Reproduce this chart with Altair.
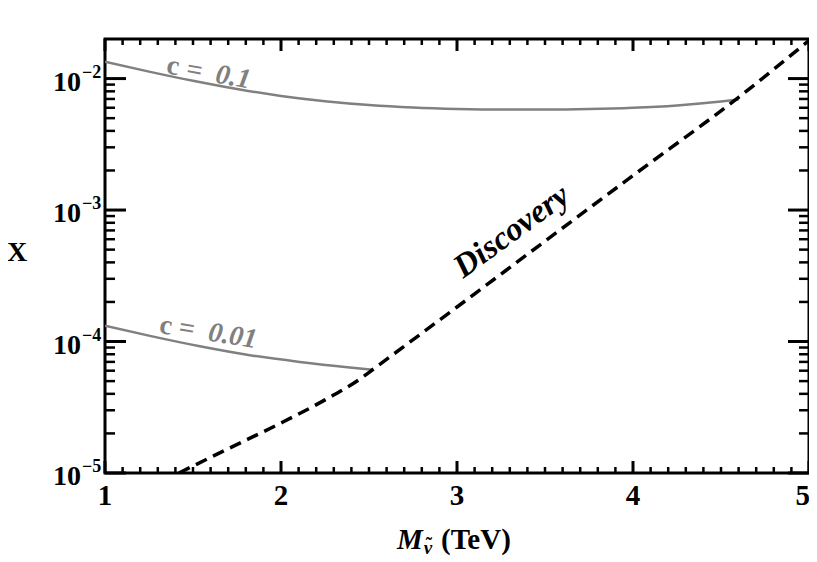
import altair as alt
import pandas as pd

# ---- data ----
c01_mass = [1.0, 1.25, 1.5, 1.75, 2.0, 2.25, 2.5, 2.75, 3.0, 3.25, 3.5, 3.75, 4.0, 4.25, 4.5, 4.6]
c01_val = [0.013428, 0.011298, 0.009616, 0.008329, 0.007379, 0.00673, 0.006295, 0.006026,
           0.005875, 0.005808, 0.005808, 0.005861, 0.005998, 0.006252, 0.006683, 0.006918]

c001_mass = [1.0, 1.255, 1.539, 1.823, 2.106, 2.39, 2.522]
c001_val = [1.317e-4, 1.104e-4, 9.2e-5, 7.87e-5, 7.0e-5, 6.35e-5, 6.1e-5]

disc_mass = [1.42, 1.7, 2.0, 2.25, 2.45, 2.52, 3.0, 3.5, 4.0, 4.6, 5.0]
disc_val = [1.0e-5, 1.53e-5, 2.4e-5, 3.6e-5, 5.2e-5, 6.1e-5, 1.83e-4, 5.8e-4, 1.83e-3, 7.2e-3, 1.95e-2]

x_major = [1, 2, 3, 4, 5]
x_major_labels = ["1", "2", "3", "4", "5"]
x_minor = [round(1 + 0.1 * i, 1) for i in range(1, 40) if i % 10 != 0]
y_major = [1e-5, 1e-4, 1e-3, 1e-2]
y_major_exp = ["\u22125", "\u22124", "\u22123", "\u22122"]
y_minor = [k * 10.0 ** e for e in (-5, -4, -3) for k in range(2, 10)]

# curve labels: the upright "c" and the italic "= value" part
c_sym_mass = [1.386, 1.346]
c_sym_val = [0.01236, 1.313e-4]
c_rest_text = ["=\u20020.1", "=\u20020.01"]
c_rest_mass = [1.644, 1.641]
c_rest_val = [0.01064, 1.138e-4]
c_angle = [10, 9]

disc_label = "Discovery"
disc_label_mass = 3.31
disc_label_val = 6.9e-4

W, H = 704, 434
FONT = "Liberation Serif"

xscale = alt.Scale(domain=[1, 5], nice=False, zero=False)
yscale = alt.Scale(type="log", domain=[1e-5, 0.02], nice=False)

def X(f):
    return alt.X(f, type="quantitative", scale=xscale, axis=None)

def Y(f):
    return alt.Y(f, type="quantitative", scale=yscale, axis=None)

c01 = pd.DataFrame({"m": c01_mass, "v": c01_val})
c001 = pd.DataFrame({"m": c001_mass, "v": c001_val})
disc = pd.DataFrame({"m": disc_mass, "v": disc_val})

gray = "#808080"

l1 = alt.Chart(c01).mark_line(color=gray, strokeWidth=2.5, interpolate="monotone", clip=True).encode(x=X("m"), y=Y("v"))
l2 = alt.Chart(c001).mark_line(color=gray, strokeWidth=2.5, interpolate="monotone", clip=True).encode(x=X("m"), y=Y("v"))
l3 = alt.Chart(disc).mark_line(color="black", strokeWidth=3.5, strokeDash=[12, 7], interpolate="monotone", clip=True).encode(x=X("m"), y=Y("v"))

label_layers = []
for i in range(2):
    d_c = pd.DataFrame({"t": ["c"], "m": [c_sym_mass[i]], "v": [c_sym_val[i]]})
    d_r = pd.DataFrame({"t": [c_rest_text[i]], "m": [c_rest_mass[i]], "v": [c_rest_val[i]]})
    label_layers.append(alt.Chart(d_c).mark_text(font=FONT, fontSize=28, fontWeight="bold", color=gray,
                                                 angle=c_angle[i], align="center", baseline="middle").encode(
        x=X("m"), y=Y("v"), text="t:N"))
    label_layers.append(alt.Chart(d_r).mark_text(font=FONT, fontSize=28, fontWeight="bold", fontStyle="italic",
                                                 color=gray, angle=c_angle[i], align="center", baseline="middle").encode(
        x=X("m"), y=Y("v"), text="t:N"))

dl = alt.Chart(pd.DataFrame({"t": [disc_label], "m": [disc_label_mass], "v": [disc_label_val]})).mark_text(
    font=FONT, fontSize=33, fontWeight="bold", fontStyle="italic", color="black", angle=324,
    align="center", baseline="middle").encode(x=X("m"), y=Y("v"), text="t:N")

# ticks
xmaj = pd.DataFrame({"m": x_major, "t": x_major_labels})
xmin = pd.DataFrame({"m": x_minor})
ymaj = pd.DataFrame({"v": y_major, "e": y_major_exp})
ymin = pd.DataFrame({"v": y_minor})

ticks = [
    alt.Chart(xmaj).mark_rule(color="black", strokeWidth=3).encode(x=X("m"), y=alt.value(H), y2=alt.value(H - 12)),
    alt.Chart(xmaj).mark_rule(color="black", strokeWidth=3).encode(x=X("m"), y=alt.value(0), y2=alt.value(12)),
    alt.Chart(xmin).mark_rule(color="black", strokeWidth=2.5).encode(x=X("m"), y=alt.value(H), y2=alt.value(H - 6)),
    alt.Chart(xmin).mark_rule(color="black", strokeWidth=2.5).encode(x=X("m"), y=alt.value(0), y2=alt.value(6)),
    alt.Chart(ymaj).mark_rule(color="black", strokeWidth=3).encode(y=Y("v"), x=alt.value(0), x2=alt.value(21)),
    alt.Chart(ymaj).mark_rule(color="black", strokeWidth=3).encode(y=Y("v"), x=alt.value(W), x2=alt.value(W - 21)),
    alt.Chart(ymin).mark_rule(color="black", strokeWidth=2.5).encode(y=Y("v"), x=alt.value(0), x2=alt.value(10)),
    alt.Chart(ymin).mark_rule(color="black", strokeWidth=2.5).encode(y=Y("v"), x=alt.value(W), x2=alt.value(W - 10)),
]

xlabels_in = alt.Chart(xmaj.iloc[:4]).mark_text(font=FONT, fontSize=29, fontWeight="bold", align="center",
                                                baseline="alphabetic").encode(x=X("m"), y=alt.value(H + 32), text="t:N")
xlabels_last = alt.Chart(xmaj.iloc[4:]).mark_text(font=FONT, fontSize=29, fontWeight="bold", align="right",
                                                  baseline="alphabetic", dx=1).encode(x=X("m"), y=alt.value(H + 32), text="t:N")
ylab10 = alt.Chart(ymaj).mark_text(font=FONT, fontSize=28, fontWeight="bold", align="right",
                                   baseline="alphabetic", dy=12).encode(y=Y("v"), x=alt.value(-24), text=alt.value("10"))
ylabexp = alt.Chart(ymaj).mark_text(font=FONT, fontSize=18, fontWeight="bold", align="left",
                                    baseline="alphabetic", dy=-1).encode(y=Y("v"), x=alt.value(-23), text="e:N")

one = pd.DataFrame({"t": ["X"]})
ytitle = alt.Chart(one).mark_text(font=FONT, fontSize=28, fontWeight="bold", align="center",
                                  baseline="middle").encode(x=alt.value(-88), y=alt.value(214), text=alt.value("X"))
xt_m = alt.Chart(one).mark_text(font=FONT, fontSize=29, fontWeight="bold", fontStyle="italic", align="left",
                                baseline="alphabetic").encode(x=alt.value(292), y=alt.value(510), text=alt.value("M"))
xt_nu = alt.Chart(one).mark_text(font=FONT, fontSize=19, fontWeight="bold", fontStyle="italic", align="center",
                                 baseline="alphabetic").encode(x=alt.value(323), y=alt.value(515), text=alt.value("\u03bd"))
xt_tilde = alt.Chart(one).mark_text(font=FONT, fontSize=19, fontWeight="bold", align="center",
                                    baseline="alphabetic").encode(x=alt.value(324), y=alt.value(511), text=alt.value("\u02dc"))
xt_tev = alt.Chart(one).mark_text(font=FONT, fontSize=29, fontWeight="bold", align="left",
                                  baseline="alphabetic").encode(x=alt.value(336), y=alt.value(510), text=alt.value("(TeV)"))

chart = alt.layer(
    l1, l2, l3, *label_layers, dl, *ticks, xlabels_in, xlabels_last, ylab10, ylabexp, ytitle,
    xt_m, xt_nu, xt_tilde, xt_tev
).properties(
    width=W, height=H,
    autosize=alt.AutoSizeParams(type="none"),
    padding={"left": 97, "top": 31, "right": 0, "bottom": 86},
).configure_view(stroke="black", strokeWidth=3)

chart.save("out.html", embed_options={"renderer": "svg", "actions": False})
